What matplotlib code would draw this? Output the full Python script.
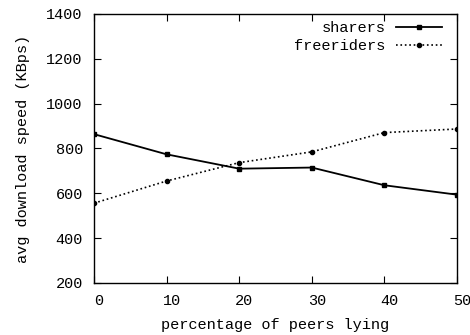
import matplotlib
matplotlib.use("Agg")
import matplotlib.pyplot as plt
import matplotlib.transforms as mtransforms
from matplotlib.ticker import FixedLocator

x_vals = [0, 10, 20, 30, 40, 50]
sharers = [864, 774, 710, 715, 636, 594]
freeriders = [556, 655, 737, 785, 871, 887]
x_ticks = [0, 10, 20, 30, 40, 50]
y_ticks = [200, 400, 600, 800, 1000, 1200, 1400]

plt.rcParams['font.family'] = ['Liberation Mono', 'DejaVu Sans Mono']
plt.rcParams['font.size'] = 11

fig = plt.figure(figsize=(4.7, 3.35), dpi=100)
ax = fig.add_axes([94/470, 1-283/335, (457-94)/470, (283-14)/335])

ax.plot(x_vals, sharers, '-', color='black', lw=1.3, marker='s', ms=3.5, label='sharers')
ax.plot(x_vals, freeriders, ':', color='black', lw=1.2, marker='o', ms=3, label='freeriders')

ax.set_xlim(0, 50)
ax.set_ylim(200, 1400)
ax.xaxis.set_major_locator(FixedLocator(x_ticks))
ax.yaxis.set_major_locator(FixedLocator(y_ticks))
ax.tick_params(direction='in', top=True, right=True, length=5, width=0.8)
ax.tick_params(axis='x', pad=8)
ax.tick_params(axis='y', pad=8)
offset = mtransforms.ScaledTranslation(5/100, 0, fig.dpi_scale_trans)
for lab in ax.get_xticklabels():
    lab.set_transform(lab.get_transform() + offset)
for s in ax.spines.values():
    s.set_linewidth(1.0)

ax.set_xlabel('percentage of peers lying', labelpad=7)
ax.set_ylabel('avg download speed (KBps)', labelpad=12)

leg = ax.legend(loc='upper right', frameon=False, markerfirst=False,
                handlelength=3.0, handletextpad=0.7, borderaxespad=0.0,
                labelspacing=0.25, bbox_to_anchor=(0.975, 0.995))

fig.savefig('out.png', dpi=100)
